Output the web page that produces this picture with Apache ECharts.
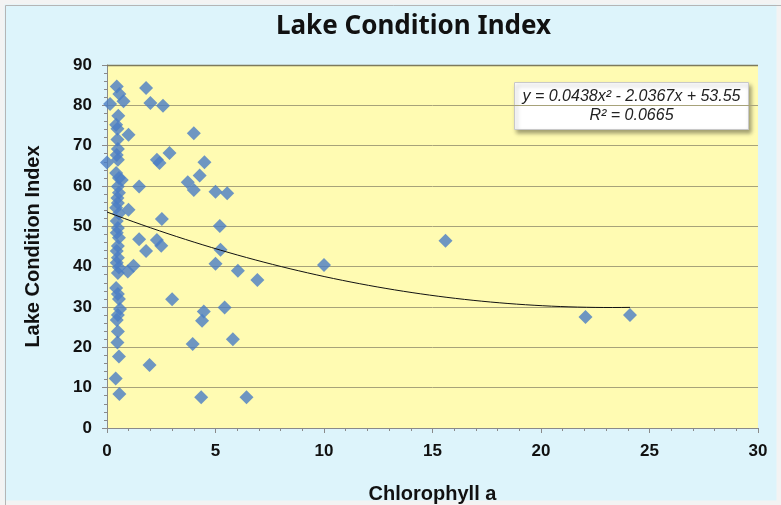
<!DOCTYPE html>
<html>
<head>
<meta charset="utf-8">
<script src="https://cdn.jsdelivr.net/npm/echarts@6/dist/echarts.min.js"></script>
<style>
  html, body { margin: 0; padding: 0; background: #fff; }
  #chart { width: 781px; height: 505px; }
</style>
</head>
<body>
<div id="chart"></div>
<script>
// chlorophyll a (x) vs lake condition index (y)
var chlorophyll = [
  0.45, 0.57, 0.76, 0.14, 0.52, 0.42, 0.48, 0.48, 0.5, 0.45, 0.5, 0.0, 0.42, 0.55,
  0.68, 0.5, 0.55, 0.48, 0.5, 0.42, 0.55, 0.45, 0.5, 0.45, 0.55, 0.5, 0.45, 0.5,
  0.45, 0.55, 0.5, 0.42, 0.5, 0.55, 0.6, 0.5, 0.45, 0.5, 0.48, 0.55, 0.4, 0.57,
  1.8, 2.0, 2.58, 0.99, 4.0, 2.3, 2.42, 2.88, 4.49, 4.27, 3.72, 4.0, 1.48, 5.0,
  5.54, 0.99, 2.53, 5.2, 1.48, 2.3, 2.5, 1.8, 5.23, 5.0, 6.03, 6.93, 0.96, 1.22,
  3.0, 4.46, 4.38, 5.42, 3.95, 5.8, 1.96, 4.34, 6.43, 10.0, 15.6, 22.05, 24.1
];
var lakeIndex = [
  84.7, 82.8, 81.0, 80.3, 77.4, 75.2, 74.2, 71.5, 69.2, 67.7, 66.5, 65.8, 63.2, 62.0,
  61.5, 59.9, 58.3, 57.0, 55.8, 54.6, 53.2, 51.3, 49.6, 48.4, 47.2, 45.1, 43.9, 42.2,
  41.0, 39.8, 38.4, 34.7, 33.2, 32.0, 29.5, 28.0, 26.8, 23.9, 21.2, 17.7, 12.3, 8.4,
  84.3, 80.6, 79.9, 72.7, 73.1, 66.5, 65.7, 68.2, 65.9, 62.6, 60.9, 59.0, 59.9, 58.6,
  58.2, 54.1, 51.8, 50.1, 46.8, 46.6, 45.2, 43.9, 44.2, 40.7, 39.0, 36.7, 38.8, 40.2,
  31.9, 28.9, 26.6, 29.9, 20.8, 22.0, 15.6, 7.6, 7.6, 40.4, 46.4, 27.5, 28.0
];
// polynomial trendline as printed on the chart: y = a x^2 + b x + c
var trendCoef = [0.0438, -2.0367, 53.55];
var trendRange = [0, 24.1];
var xTicks = [0, 30, 5];
var yTicks = [0, 90, 10];

var points = chlorophyll.map(function (x, i) { return [x, lakeIndex[i]]; });
var trend = [];
for (var s = 0; s <= 60; s++) {
  var x = trendRange[0] + (trendRange[1] - trendRange[0]) * s / 60;
  trend.push([x, trendCoef[0] * x * x + trendCoef[1] * x + trendCoef[2]]);
}

var chart = echarts.init(document.getElementById("chart"));
var axisFont = { fontFamily: "Liberation Sans", fontWeight: "bold", fontSize: 17, color: "#111" };
var nameFont = { fontFamily: "Liberation Sans", fontWeight: "bold", fontSize: 20, color: "#111" };

chart.setOption({
  backgroundColor: "#DDF4FB",
  animation: false,
  title: {
    text: "Lake Condition Index",
    left: 271,
    top: 9,
    textStyle: { fontFamily: "Noto Sans", fontWeight: "bold", fontSize: 26, color: "#111" }
  },
  grid: {
    left: 107, right: 23, top: 65, bottom: 77,
    outerBoundsMode: "none",
    show: true,
    backgroundColor: "#FFFBB2",
    borderWidth: 0
  },
  xAxis: {
    type: "value",
    min: xTicks[0], max: xTicks[1], interval: xTicks[2],
    name: "Chlorophyll a",
    nameLocation: "middle",
    nameGap: 56,
    nameTextStyle: nameFont,
    axisLine: { onZero: false, lineStyle: { color: "#8a8a8a" } },
    axisTick: { show: true, length: 5, lineStyle: { color: "#8a8a8a" } },
    minorTick: { show: true, splitNumber: 5, length: 3, lineStyle: { color: "#8a8a8a" } },
    axisLabel: Object.assign({ margin: 15 }, axisFont),
    splitLine: { show: false }
  },
  yAxis: {
    type: "value",
    min: yTicks[0], max: yTicks[1], interval: yTicks[2],
    name: "Lake Condition Index",
    nameLocation: "middle",
    nameGap: 64,
    nameRotate: 90,
    nameTextStyle: nameFont,
    axisLine: { show: true, lineStyle: { color: "#8a8a8a" } },
    axisTick: { show: true, length: 5, lineStyle: { color: "#8a8a8a" } },
    minorTick: { show: true, splitNumber: 5, length: 3, lineStyle: { color: "#8a8a8a" } },
    axisLabel: Object.assign({ margin: 15 }, axisFont),
    splitLine: { show: true, lineStyle: { color: "#A7A27A", width: 1 } }
  },
  series: [
    {
      type: "scatter",
      data: points,
      symbol: "diamond",
      symbolSize: 14,
      itemStyle: { color: "#4A7DC4" },
      z: 3
    },
    {
      type: "line",
      data: trend,
      showSymbol: false,
      smooth: false,
      lineStyle: { color: "#111", width: 1 },
      z: 4
    }
  ],
  graphic: [
    {
      type: "rect",
      silent: true,
      shape: { x: 0, y: 0, width: 781, height: 505 },
      style: { fill: null, stroke: "#f3f3f3", lineWidth: 9 }
    },
    {
      type: "rect",
      silent: true,
      shape: { x: 5.5, y: 5.5, width: 790, height: 520 },
      style: { fill: null, stroke: "#b5b5b5", lineWidth: 1 }
    },
    {
      // top edge of the plot area is a bit darker than the other grid lines
      type: "line",
      silent: true,
      shape: { x1: 107, y1: 65.5, x2: 758, y2: 65.5 },
      style: { stroke: "#7d7a5c", lineWidth: 1.5 },
      z: 5
    },
    {
      type: "group",
      left: 514,
      top: 82,
      z: 10,
      children: [
        {
          type: "rect",
          shape: { x: 0, y: 0, width: 234, height: 47 },
          style: {
            fill: "#fff", stroke: "#c8c8c8", lineWidth: 1,
            shadowBlur: 4, shadowOffsetX: 2, shadowOffsetY: 3, shadowColor: "rgba(0,0,0,0.35)"
          }
        },
        {
          type: "text",
          x: 117, y: 14,
          style: {
            text: "y = 0.0438x² - 2.0367x + 53.55",
            align: "center", verticalAlign: "middle",
            font: "italic 16px 'Liberation Sans Narrow', 'Liberation Sans'",
            fill: "#222"
          }
        },
        {
          type: "text",
          x: 117, y: 33,
          style: {
            text: "R² = 0.0665",
            align: "center", verticalAlign: "middle",
            font: "italic 16px 'Liberation Sans Narrow', 'Liberation Sans'",
            fill: "#222"
          }
        }
      ]
    }
  ]
});
</script>
</body>
</html>
